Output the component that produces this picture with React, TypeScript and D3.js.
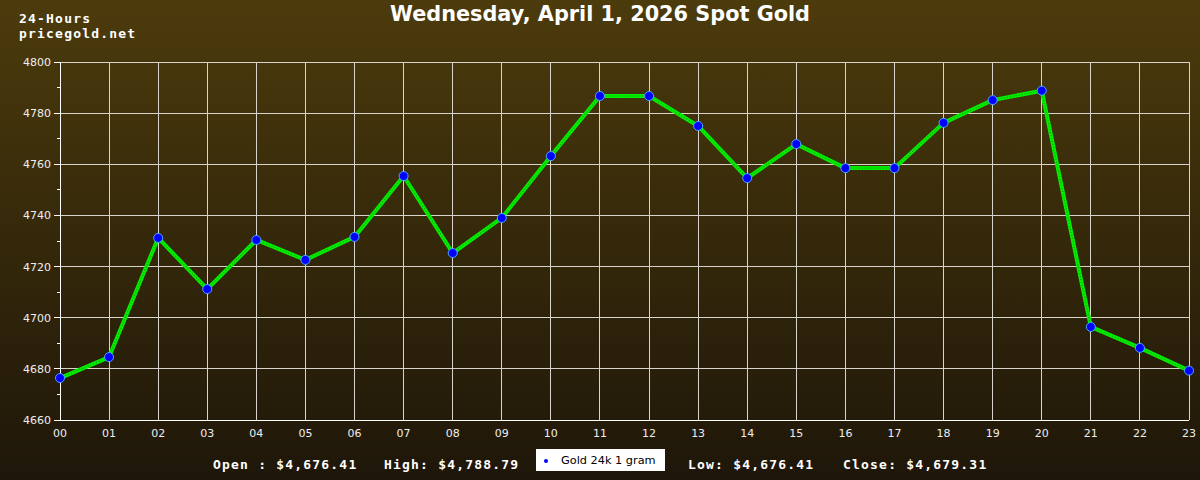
import React, { useEffect, useRef } from 'react';
import * as d3 from 'd3';

// hourly spot prices
const hours = ['00', '01', '02', '03', '04', '05', '06', '07', '08', '09', '10', '11',
  '12', '13', '14', '15', '16', '17', '18', '19', '20', '21', '22', '23'];
const prices = [4676.41, 4684.6, 4731.2, 4711.2, 4730.4, 4722.6, 4731.6, 4755.4, 4725.3, 4739.0,
  4763.2, 4786.7, 4786.7, 4775.0, 4754.6, 4767.9, 4758.5, 4758.5, 4776.2, 4785.1, 4788.79,
  4696.4, 4688.2, 4679.31];
const yTicks = [4660, 4680, 4700, 4720, 4740, 4760, 4780, 4800];
const minorTicks = [4670, 4690, 4710, 4730, 4750, 4770, 4790];
const summary = [
  { label: 'Open : $4,676.41', x: 213 },
  { label: 'High: $4,788.79', x: 384 },
  { label: 'Low: $4,676.41', x: 688 },
  { label: 'Close: $4,679.31', x: 843 },
];
const title = 'Wednesday, April 1, 2026 Spot Gold';
const seriesName = 'Gold 24k 1 gram';

const W = 1200;
const H = 480;

const App: React.FC = () => {
  const svgRef = useRef<SVGSVGElement>(null);

  useEffect(() => {
    document.body.style.margin = '0';
    if (!svgRef.current) return;
    const svg = d3.select(svgRef.current);
    svg.selectAll('*').remove();

    const margin = { top: 62, right: 11, bottom: 60, left: 60 };
    const width = W - margin.left - margin.right;
    const height = H - margin.top - margin.bottom;

    // background gradient
    const defs = svg.append('defs');
    const grad = defs.append('linearGradient').attr('id', 'bg').attr('x1', 0).attr('y1', 0).attr('x2', 0).attr('y2', 1);
    grad.append('stop').attr('offset', '0%').attr('stop-color', '#4c3b0c');
    grad.append('stop').attr('offset', '100%').attr('stop-color', '#1e1609');
    svg.append('rect').attr('width', W).attr('height', H).attr('fill', 'url(#bg)');

    const x = d3.scalePoint<string>().domain(hours).range([0, width]);
    const y = d3.scaleLinear().domain([4660, 4800]).range([height, 0]);

    const g = svg.append('g').attr('transform', `translate(${margin.left},${margin.top})`);

    // grid
    g.append('g').selectAll('line.v').data(hours).enter().append('line')
      .attr('x1', d => x(d)!).attr('x2', d => x(d)!)
      .attr('y1', 0).attr('y2', height)
      .attr('stroke', '#d8d4cc').attr('stroke-width', 1).attr('shape-rendering', 'crispEdges');
    g.append('g').selectAll('line.h').data(yTicks).enter().append('line')
      .attr('x1', 0).attr('x2', width)
      .attr('y1', d => y(d)).attr('y2', d => y(d))
      .attr('stroke', '#d8d4cc').attr('stroke-width', 1).attr('shape-rendering', 'crispEdges');

    // axes
    g.append('line').attr('x1', -6).attr('x2', width).attr('y1', height).attr('y2', height)
      .attr('stroke', '#ffffff').attr('shape-rendering', 'crispEdges');
    g.append('line').attr('x1', 0).attr('x2', 0).attr('y1', 0).attr('y2', height)
      .attr('stroke', '#ffffff').attr('shape-rendering', 'crispEdges');
    g.append('g').selectAll('line').data(yTicks).enter().append('line')
      .attr('x1', -6).attr('x2', 0).attr('y1', d => y(d)).attr('y2', d => y(d))
      .attr('stroke', '#ffffff').attr('shape-rendering', 'crispEdges');
    g.append('g').selectAll('line').data(minorTicks).enter().append('line')
      .attr('x1', -3).attr('x2', 0).attr('y1', d => y(d)).attr('y2', d => y(d))
      .attr('stroke', '#ffffff').attr('shape-rendering', 'crispEdges');

    g.append('g').selectAll('text').data(yTicks).enter().append('text')
      .attr('x', -9).attr('y', d => y(d) + 4)
      .attr('text-anchor', 'end')
      .attr('font-family', 'DejaVu Sans').attr('font-size', 11).attr('fill', '#eeeeee')
      .text(d => d);
    g.append('g').selectAll('text').data(hours).enter().append('text')
      .attr('x', d => x(d)!).attr('y', height + 17)
      .attr('text-anchor', 'middle')
      .attr('font-family', 'DejaVu Sans').attr('font-size', 11).attr('fill', '#eeeeee')
      .text(d => d);

    // series line (zigzag texture approximated with a dashed overlay)
    const line = d3.line<number>().x((_, i) => x(hours[i])!).y(d => y(d));
    g.append('path').datum(prices).attr('d', line)
      .attr('fill', 'none').attr('stroke', '#00f000').attr('stroke-width', 4).attr('stroke-linejoin', 'round');
    g.append('path').datum(prices).attr('d', line)
      .attr('fill', 'none').attr('stroke', '#1a6a00').attr('stroke-width', 1.2)
      .attr('stroke-dasharray', '1,2').attr('opacity', 0.7);

    g.append('g').selectAll('circle').data(prices).enter().append('circle')
      .attr('cx', (_, i) => x(hours[i])!).attr('cy', d => y(d))
      .attr('r', 4.5)
      .attr('fill', '#0000ff').attr('stroke', '#4aa8ff').attr('stroke-width', 1);

    // titles
    svg.append('text').attr('x', 600).attr('y', 21).attr('text-anchor', 'middle')
      .attr('font-family', 'DejaVu Sans').attr('font-weight', 'bold').attr('font-size', 20.8)
      .attr('fill', '#ffffff').text(title);
    const mono = (sel: d3.Selection<SVGTextElement, any, any, any>) =>
      sel.attr('font-family', 'DejaVu Sans Mono').attr('font-weight', 'bold')
        .attr('font-size', 13).attr('letter-spacing', 1.2).attr('fill', '#ffffff');
    svg.append('text').attr('x', 19).attr('y', 23).call(mono).text('24-Hours');
    svg.append('text').attr('x', 19).attr('y', 38).call(mono).text('pricegold.net');

    // summary line
    svg.append('g').selectAll('text').data(summary).enter().append('text')
      .attr('x', d => d.x).attr('y', 469)
      .call(mono)
      .text(d => d.label);

    // legend
    const lg = svg.append('g').attr('transform', 'translate(536,449)');
    lg.append('rect').attr('width', 129).attr('height', 22).attr('fill', '#ffffff');
    lg.append('circle').attr('cx', 10).attr('cy', 12).attr('r', 2).attr('fill', '#0000ff');
    lg.append('text').attr('x', 25).attr('y', 15)
      .attr('font-family', 'DejaVu Sans').attr('font-size', 11.3).attr('fill', '#000000')
      .text(seriesName);
  }, []);

  return <svg ref={svgRef} width={W} height={H} style={{ display: 'block' }}></svg>;
};

export default App;
